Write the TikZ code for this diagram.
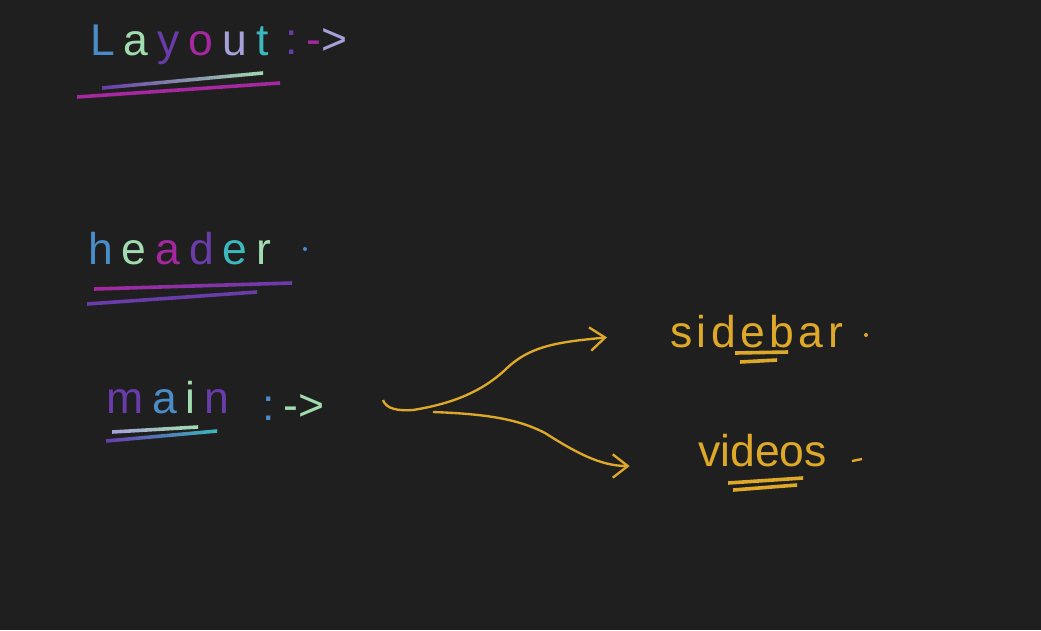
\documentclass[tikz,border=0pt]{standalone}
\usepackage{fontspec}
\setmainfont{Liberation Sans}
\usetikzlibrary{arrows.meta,positioning}

\definecolor{board}{RGB}{31,31,31}
\definecolor{inkblue}{RGB}{72,140,200}
\definecolor{inkgreen}{RGB}{160,220,175}
\definecolor{inkpurple}{RGB}{105,60,170}
\definecolor{inkmagenta}{RGB}{165,40,160}
\definecolor{inklav}{RGB}{165,160,215}
\definecolor{inkteal}{RGB}{60,185,190}
\definecolor{inkgold}{RGB}{222,168,40}

% one letter in its own colour, then a gap
\newcommand{\ink}[2]{{\color{#1}#2}\kern0.2em}

% x1 y1 x2 y2 left middle right
\newcommand{\glowline}[7]{%
  \shade[left color=#5, middle color=#6, right color=#7]
    (#1,#2-1.8) -- (#3,#4-1.8) -- (#3,#4+1.8) -- (#1,#2+1.8) -- cycle;}

\begin{document}
\begin{tikzpicture}[x=0.03cm,y=-0.03cm]

\tikzset{word/.style = {anchor=base west, inner sep=0pt, font=\fontsize{38}{44}\selectfont}}
\tikzset{spaced/.style = {font=\fontsize{38}{44}\selectfont\addfontfeature{LetterSpace=#1}}}
\tikzset{branch/.style = {draw=inkgold, line width=2pt, -{Straight Barb[length=0.45cm,width=0.7cm]}}}

\fill[board] (0,0) rectangle (1041,630);
\useasboundingbox (0,0) rectangle (1041,630);

% Layout
\node[word] (layout) at (90,55)
  {\ink{inkblue}{L}\ink{inkgreen}{a}\ink{inkpurple}{y}\ink{inkmagenta}{o}\ink{inklav}{u}{\color{inkteal}t}};
\node[word] (layoutto) at (285,54)
  {\ink{inkpurple}{:}{\color{inkmagenta}-}{\color{inklav}>}};
\glowline{102}{88}{263}{73}{inkpurple}{inkteal}{inkgreen}
\glowline{77}{97}{280}{83}{inkmagenta}{inkteal}{inkmagenta}

% header
\node[word] (header) at (88,264)
  {\ink{inkblue}{h}\ink{inkgreen}{e}\ink{inkmagenta}{a}\ink{inkpurple}{d}\ink{inkteal}{e}{\color{inkgreen}r}};
\fill[inkblue] (305,249) circle (2);
\glowline{94}{289}{292}{283}{inkmagenta}{inkblue}{inkpurple}
\glowline{87}{304}{257}{292}{inkpurple}{inkteal}{inkpurple}

% main
\node[word] (main) at (106,413)
  {\ink{inkpurple}{m}\ink{inkblue}{a}\ink{inkgreen}{i}{\color{inkpurple}n}};
\node[word] (mainto) at (262,420)
  {\ink{inkblue}{:}{\color{inkgreen}-}{\color{inkgreen}>}};
\glowline{112}{432}{198}{427}{inklav}{inkteal}{inkgreen}
\glowline{106}{441}{217}{431}{inkpurple}{inkmagenta}{inkteal}

% branches
\coordinate (forkA) at (383,400);
\coordinate (forkB) at (433,412);

\node[word,spaced=10,text=inkgold] (sidebar) at (670,347) {sidebar};
\node[word,text=inkgold] (videos) at (698,466) {videos};
\fill[inkgold] (866,335) circle (2);
\draw[inkgold, line width=2pt] (852,461) -- (862,459);

\draw[branch, shorten >=1.9cm] (forkA) .. controls (386,409) and (398,411) .. (413,410)
  .. controls (450,404) and (480,393) .. (505,370)
  .. controls (530,345) and (560,342) .. (sidebar.west);
\draw[branch, shorten >=2.05cm] (forkB) .. controls (490,414) and (520,420) .. (545,433)
  .. controls (575,452) and (600,466) .. (videos.base west);

\glowline{735}{353}{788}{352}{inkgold}{inkgold}{inkgold}
\glowline{740}{362}{777}{360}{inkgold}{inkgold}{inkgold}
\glowline{728}{483}{803}{478}{inkgold}{inkgold}{inkgold}
\glowline{733}{490}{797}{485}{inkgold}{inkgold}{inkgold}

\end{tikzpicture}
\end{document}
